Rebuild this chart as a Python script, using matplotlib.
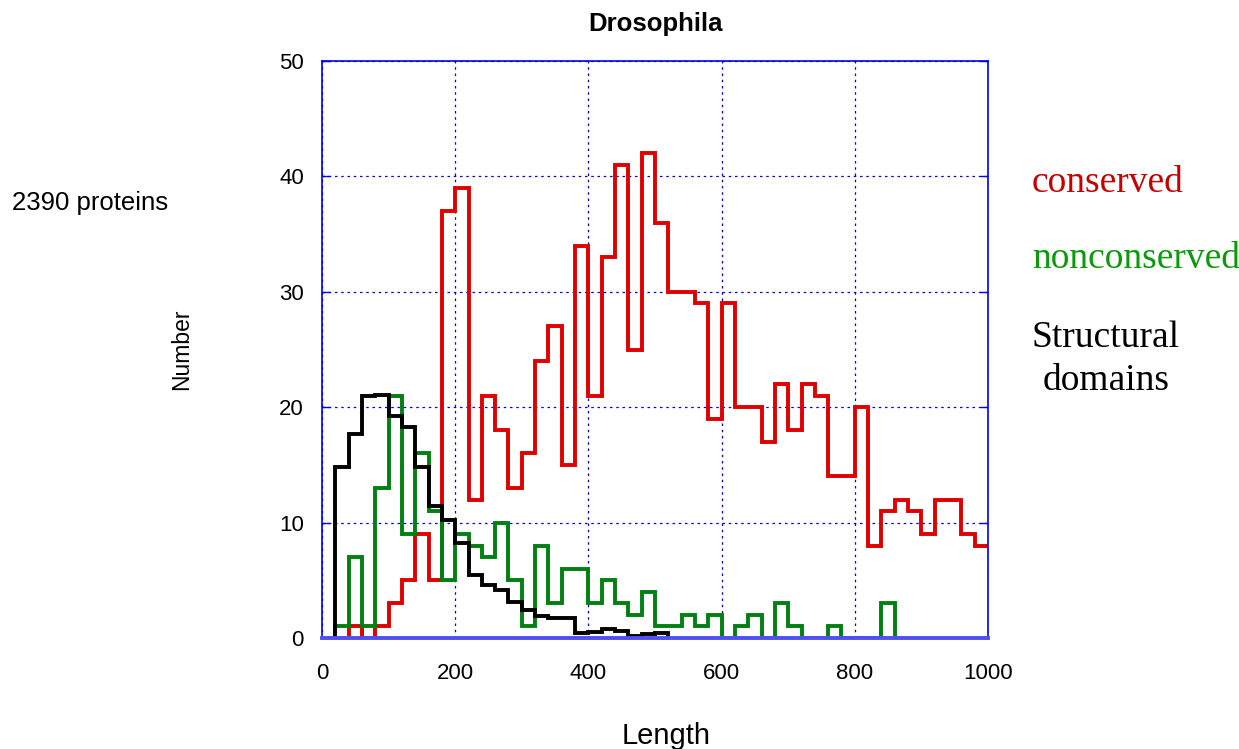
import numpy as np
import matplotlib
matplotlib.use("Agg")
import matplotlib.pyplot as plt

# ---- data (bin width 20) ----
conserved_start = 40
conserved = [1, 0, 1, 3, 5, 9, 5, 37, 39, 12, 21, 18, 13, 16, 24, 27, 15, 34,
             21, 33, 41, 25, 42, 36, 30, 30, 29, 19, 29, 20, 20, 17, 22, 18, 22, 21, 14, 14,
             20, 8, 11, 12, 11, 9, 12, 12, 9, 8]
nonconserved_start = 20
nonconserved = [1, 7, 1, 13, 21, 9, 16, 11, 5, 9, 8, 7, 10, 5, 1, 8, 3, 6, 6, 3,
                5, 3, 2, 4, 1, 1, 2, 1, 2, 0, 1, 2, 0, 3, 1, 0, 0, 1, 0, 0,
                0, 3]
structural_start = 20
structural = [14.8, 17.7, 21.0, 21.1, 19.2, 18.3, 14.8, 11.4, 10.2, 8.2,
              5.45, 4.6, 4.15, 3.15, 2.45, 1.9, 1.7, 1.75, 0.4, 0.55,
              0.75, 0.63, 0.17, 0.35, 0.4]
bin_width = 20
x_ticks = [0, 200, 400, 600, 800, 1000]
y_ticks = [0, 10, 20, 30, 40, 50]

RED = "#e00000"
GREEN = "#008010"
BLUE = "#0000ee"

fig = plt.figure(figsize=(12.39, 7.49), dpi=100)
ax = fig.add_axes([322/1239, 1 - 638/749, (988-322)/1239, (638-61)/749])


def step_xy(start, vals, drop_end):
    e = start + bin_width * np.arange(len(vals) + 1)
    xs = np.r_[e[0], e]
    ys = np.r_[0, vals, vals[-1]]
    if drop_end:
        xs = np.r_[xs, e[-1]]
        ys = np.r_[ys, 0]
    return xs, ys


lw = 2.8
for start, vals, col, drop, z in [
    (conserved_start, conserved, RED, False, 2),
    (nonconserved_start, nonconserved, GREEN, True, 3),
    (structural_start, structural, "black", True, 4),
]:
    xs, ys = step_xy(start, vals, drop)
    ax.plot(xs, ys, drawstyle="steps-post", color=col, lw=lw, zorder=z,
            solid_joinstyle="miter", solid_capstyle="butt")

ax.set_xlim(0, 1000)
ax.set_ylim(0, 50)
ax.set_xticks(x_ticks)
ax.set_yticks(y_ticks)
ax.grid(True, color=BLUE, linestyle=(0, (2, 3)), linewidth=0.9)
ax.set_axisbelow(True)
for name, s in ax.spines.items():
    s.set_color(BLUE)
    s.set_linewidth(1.2)
    s.set_zorder(5)
ax.spines["bottom"].set_linewidth(2.8)
ax.spines["bottom"].set_color("#5050f0")
ax.tick_params(direction="in", length=6, color=BLUE, width=1,
               left=True, right=True, top=False, bottom=False,
               labelsize=16)
ax.tick_params(axis="y", pad=13)
ax.tick_params(axis="x", pad=18)
for lab in ax.get_xticklabels() + ax.get_yticklabels():
    lab.set_fontfamily("Liberation Sans")

# titles and labels
fig.text(655/1239, 1 - 24/749, "Drosophila", ha="center", va="center",
         fontsize=18.5, fontweight="bold", family="Liberation Sans")
fig.text(666/1239, 1 - 736/749, "Length", ha="center", va="center",
         fontsize=21, family="Liberation Sans")
fig.text(182/1239, 1 - 349/749, "Number", ha="center", va="center",
         rotation=90, fontsize=16.5, family="Liberation Sans")
fig.text(12/1239, 1 - 210/749, "2390 proteins", ha="left", va="baseline",
         fontsize=18.5, family="Liberation Sans")

# legend-like labels
fig.text(1032/1239, 1 - 192/749, "conserved", ha="left", va="baseline",
         fontsize=27, color="#c80000", family="Liberation Serif")
fig.text(1032/1239, 1 - 268/749, "nonconserved", ha="left", va="baseline",
         fontsize=27, color="#0a9a0a", family="Liberation Serif")
fig.text(1032/1239, 1 - 347/749, "Structural", ha="left", va="baseline",
         fontsize=27, color="black", family="Liberation Serif")
fig.text(1043/1239, 1 - 390/749, "domains", ha="left", va="baseline",
         fontsize=27, color="black", family="Liberation Serif")

fig.savefig("out.png", dpi=100)
